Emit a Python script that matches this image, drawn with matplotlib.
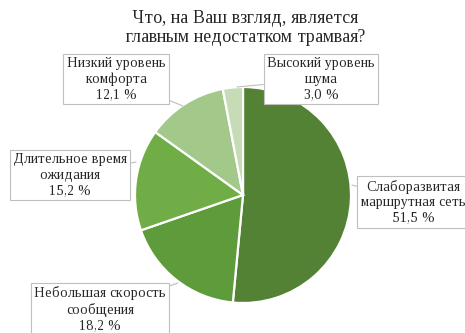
import numpy as np
import matplotlib.pyplot as plt

plt.rcParams['font.family'] = ['Liberation Serif', 'DejaVu Serif']
plt.rcParams['text.hinting_factor'] = 1

# Данные опроса
labels = ["Слаборазвитая\nмаршрутная сеть", "Небольшая скорость\nсообщения",
          "Длительное время\nожидания", "Низкий уровень\nкомфорта",
          "Высокий уровень\nшума"]
shares = [51.5, 18.2, 15.2, 12.1, 3.0]
colors = ["#548235", "#5e9b3a", "#70ad47", "#a3c98a", "#c5dcb7"]

W, H = 465, 333
fig = plt.figure(figsize=(W / 100, H / 100), dpi=100)
ax = fig.add_axes([0, 0, 1, 1])

cx, cy, r = 243, H - 195, 108
ax.pie(shares, colors=colors, startangle=90, counterclock=False,
       center=(cx, cy), radius=r,
       wedgeprops=dict(edgecolor='white', linewidth=1.6))

# pie сбрасывает пределы, поэтому задаём их после
ax.set_xlim(0, W)
ax.set_ylim(0, H)
ax.set_aspect('equal')
ax.axis('off')

# положения подписей (в пикселях) и точки, на которые они указывают
text_pos = [(413, 202), (100, 309), (70, 175), (116, 79), (321, 79)]
tips = [(352, 185), (178, 283), (136, 162), (183, 106), (237, 87)]

for lab, s, (tx, ty), (px, py) in zip(labels, shares, text_pos, tips):
    txt = lab + "\n" + f"{s:.1f}".replace('.', ',') + " %"
    ax.annotate(txt, xy=(px, H - py), xytext=(tx, H - ty),
                ha='center', va='center', multialignment='center',
                fontsize=9.8, linespacing=1.22, color='#262626',
                bbox=dict(boxstyle='square,pad=0.25', fc='white', ec='#bfbfbf', lw=0.8),
                arrowprops=dict(arrowstyle='-', color='#bfbfbf', lw=0.8,
                                shrinkA=0, shrinkB=0))

ax.text(245, H - 28, "Что, на Ваш взгляд, является\nглавным недостатком трамвая?",
        ha='center', va='center', multialignment='center',
        fontsize=13, linespacing=1.15, color='#262626')

fig.savefig("out.png", dpi=100)
